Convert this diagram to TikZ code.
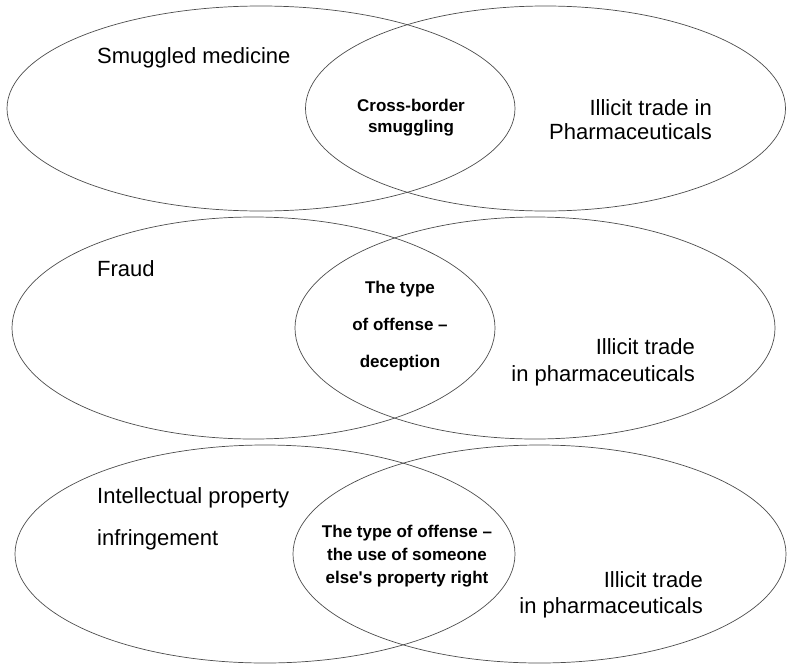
\documentclass[tikz,border=0pt]{standalone}
\usepackage{fontspec}
\setmainfont{Liberation Sans}[Ligatures=TeXOff]
\usetikzlibrary{shapes.geometric}

\begin{document}
\begin{tikzpicture}[
    x=1pt, y=-1pt,
    set/.style={draw=black!70, line width=0.7pt, ellipse, inner sep=0pt},
    txt/.style={inner sep=0pt, font=\fontsize{22}{24}\selectfont},
    core/.style={inner sep=0pt, align=center, font=\bfseries\fontsize{17}{21}\selectfont}
]
\useasboundingbox (0,0) rectangle (787,664);

% First row: smuggling
\node[set, minimum width=508pt, minimum height=205pt] (SM) at (261,108.5) {};
\node[set, minimum width=480pt, minimum height=205pt] (IT1) at (545.5,108.5) {};
\node[txt, anchor=base west] (SMt) at (97,63) {Smuggled medicine};
\node[core] (CB) at (411,118) {Cross-border\\smuggling};
\node[txt, align=right, anchor=east] (IT1t) at (712,119.5) {Illicit trade in\\Pharmaceuticals};

% Second row: fraud
\node[set, minimum width=483pt, minimum height=222pt] (FR) at (253.5,328) {};
\node[set, minimum width=480pt, minimum height=222pt] (IT2) at (535,328) {};
\node[txt, anchor=base west] (FRt) at (97,276) {Fraud};
\node[core, font=\bfseries\fontsize{17}{37}\selectfont] (DC) at (400,326) {The type\\of offense –\\deception};
\node[txt, align=right, anchor=east, font=\fontsize{22}{27}\selectfont] (IT2t) at (695,362.5) {Illicit trade\\in pharmaceuticals};

% Third row: intellectual property
\node[set, minimum width=500pt, minimum height=218pt] (IP) at (265,554) {};
\node[set, minimum width=493pt, minimum height=218pt] (IT3) at (539.5,554) {};
\node[txt, align=left, anchor=west, font=\fontsize{22}{42}\selectfont] (IPt) at (97,519) {Intellectual property\\infringement};
\node[core, font=\bfseries\fontsize{17}{23}\selectfont] (PR) at (407,556) {The type of offense –\\the use of someone\\else's property right};
\node[txt, align=right, anchor=east, font=\fontsize{22}{26}\selectfont] (IT3t) at (703,595) {Illicit trade\\in pharmaceuticals};

\end{tikzpicture}
\end{document}
